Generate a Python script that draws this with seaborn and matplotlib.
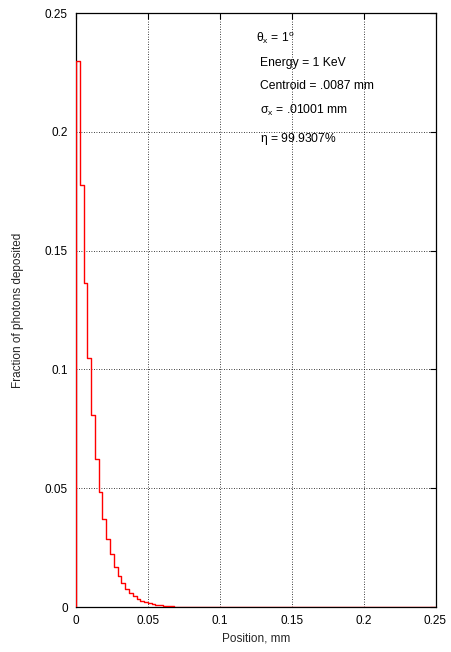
import numpy as np
import pandas as pd
import matplotlib
matplotlib.use("Agg")
import matplotlib.pyplot as plt
import seaborn as sns

# Data
bin_width = 0.00263
fractions = [0.2298, 0.1775, 0.1364, 0.1048, 0.0807, 0.0622, 0.0484, 0.0371,
             0.0288, 0.0221, 0.0169, 0.0131, 0.0100, 0.0076, 0.0058, 0.0045,
             0.0034, 0.0026, 0.0020, 0.0015, 0.0012, 0.0009, 0.0007, 0.0005,
             0.0004, 0.0003, 0.0002, 0.0002, 0.0001, 0.0001, 0.0001, 0.0001]
x_ticks = [0, 0.05, 0.1, 0.15, 0.2, 0.25]
x_tick_labels = ["0", "0.05", "0.1", "0.15", "0.2", "0.25"]
y_ticks = [0, 0.05, 0.1, 0.15, 0.2, 0.25]
y_tick_labels = ["0", "0.05", "0.1", "0.15", "0.2", "0.25"]
annotations = [r"$\theta_x$ = 1$^{o}$", "Energy = 1 KeV", "Centroid = .0087 mm",
               r"$\sigma_x$ = .01001 mm", r"$\eta$ = 99.9307%"]

sns.set_style("white")
plt.rcParams["font.family"] = ["Liberation Sans", "DejaVu Sans"]
plt.rcParams["mathtext.fontset"] = "custom"
plt.rcParams["mathtext.rm"] = "Liberation Sans"
plt.rcParams["mathtext.it"] = "Liberation Sans"
plt.rcParams["mathtext.default"] = "regular"

n = len(fractions)
edges = [i * bin_width for i in range(n)]
xs = [0.0] + edges + [n * bin_width, 0.25]
ys = [0.0] + fractions + [0.0, 0.0]
df = pd.DataFrame({"x": xs, "y": ys})

fig = plt.figure(figsize=(4.51, 6.52), dpi=100)
ax = fig.add_axes([76 / 451, 1 - 607 / 652, (435.5 - 76) / 451, (607 - 13) / 652])

sns.lineplot(data=df, x="x", y="y", sort=False, estimator=None,
             drawstyle="steps-post", color="red", linewidth=1.0, ax=ax, zorder=3)

ax.set_xlim(0, 0.25)
ax.set_ylim(0, 0.25)
ax.set_xticks(x_ticks)
ax.set_xticklabels(x_tick_labels)
ax.set_yticks(y_ticks)
ax.set_yticklabels(y_tick_labels)
ax.tick_params(direction="in", length=4, width=0.8, top=True, right=True,
               labelsize=8.5, colors="black", pad=6)
ax.grid(True, linestyle=(0, (1, 2)), color="black", linewidth=0.6)
for s in ax.spines.values():
    s.set_visible(True)
    s.set_color("black")
    s.set_linewidth(0.9)

ax.set_xlabel("Position, mm", fontsize=8.5, labelpad=4)
ax.set_ylabel("Fraction of photons deposited", fontsize=8.5, labelpad=15)

text_pos = [(0.1250, 0.2395), (0.1278, 0.2290), (0.1278, 0.2193),
            (0.1278, 0.2088), (0.1278, 0.1970)]
for (tx, ty), t in zip(text_pos, annotations):
    ax.text(tx, ty, t, fontsize=8.7, va="center", ha="left", color="black")

fig.savefig("out.png", dpi=100)
